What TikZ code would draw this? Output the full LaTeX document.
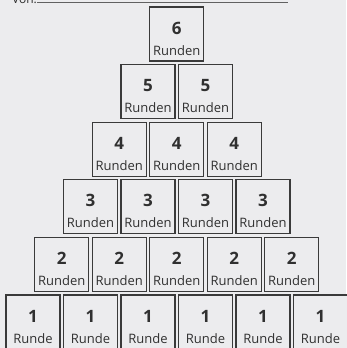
\documentclass[tikz,border=0pt]{standalone}
\usepackage{fontspec}
\setmainfont{Open Sans}
\definecolor{paper}{HTML}{ECECEE}
\definecolor{boxline}{HTML}{3A3A3A}
\definecolor{ink}{HTML}{303030}
\usetikzlibrary{calc}

\begin{document}
\begin{tikzpicture}[x=1pt, y=-1pt,
  cell/.style={draw=boxline, line width=1.2pt, fill=paper, minimum size=54pt, inner sep=0pt},
  num/.style={anchor=base, inner sep=0pt, text=ink, font=\fontsize{17}{17}\selectfont\bfseries},
  lbl/.style={anchor=base, inner sep=0pt, text=ink, font=\fontsize{13}{13}\selectfont}
]
\fill[paper] (0,0) rectangle (346,348);
\useasboundingbox (0,0) rectangle (346,348);
% name line at the top
\node[anchor=base west, inner sep=0pt, text=ink, font=\fontsize{12}{12}\selectfont] (von) at (12,3) {Von:};
\coordinate (vonend) at (288,2);
\draw[boxline!80, line width=0.8pt] (von.base east |- vonend) -- (vonend);
% pyramid of rounds
\foreach \r in {1,...,6}{
  \pgfmathtruncatemacro\n{7-\r}
  \foreach \i in {1,...,\n}{
    \node[cell] (c\r-\i) at ({33+(\r-1)*28.75+(\i-1)*57.5},{34+(6-\r)*57.6}) {};
    \node[num] (n\r-\i) at (c\r-\i.center) {\r};
    \node[lbl] (l\r-\i) at ([yshift=-21pt]c\r-\i.center) {\ifnum\r=1 Runde\else Runden\fi};
  }
}
\end{tikzpicture}
\end{document}
